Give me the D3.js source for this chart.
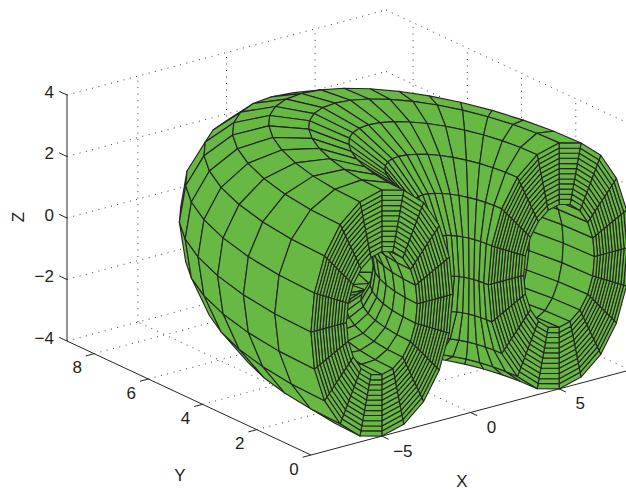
<!DOCTYPE html>
<html>
<head>
<meta charset="utf-8">
<script src="https://cdn.jsdelivr.net/npm/d3@7"></script>
<style>
  html, body { margin: 0; padding: 0; background: #fff; }
  svg { display: block; }
  text { font-family: "Liberation Sans", Arial, sans-serif; font-size: 17px; fill: #231f20; }
</style>
</head>
<body>
<script>
const xTicks = [-5, 0, 5];
const yTicks = [0, 2, 4, 6, 8];
const zTicks = [-4, -2, 0, 2, 4];
const xLimits = [-9, 9];
const yLimits = [0, 9];
const zLimits = [-4, 4];

// half ring with a thick walled tube: angles in degrees
const sweepAngles = [0, 9, 18, 27, 36, 45, 54, 63, 72, 81, 90, 99, 108, 117, 126, 135, 144, 153, 162, 171, 180];
const tubeAngles = [0, 18, 36, 54, 72, 90, 108, 126, 144, 162, 180, 198, 216, 234, 252, 270, 288, 306, 324, 342, 360];
const capRadii = [2, 2.17, 2.33, 2.5, 2.67, 2.83, 3, 3.17, 3.33, 3.5, 3.67, 3.83, 4];
const ringRadius = 5;

const width = 626, height = 489;
const green = "#68b944", ink = "#262624";

const svg = d3.select("body").append("svg").attr("width", width).attr("height", height);

// each data axis moves along its own direction on screen
const xToH = d3.scaleLinear().domain(xLimits).range([0, 319]);
const xToV = d3.scaleLinear().domain(xLimits).range([0, -85]);
const yToH = d3.scaleLinear().domain(yLimits).range([0, -244]);
const yToV = d3.scaleLinear().domain(yLimits).range([0, -114]);
const zToV = d3.scaleLinear().domain(zLimits).range([0, -246]);
const originX = 311, originY = 455;

function project(p) {
    return [originX + xToH(p[0]) + yToH(p[1]), originY + xToV(p[0]) + yToV(p[1]) + zToV(p[2])];
}

// camera sits on the -x, -y, +z side
const camera = [-833, -544, 352];
const depth = p => p[0] * camera[0] + p[1] * camera[1] + p[2] * camera[2];
const line = d3.line();

function seg(a, b, dotted) {
    const s = svg.append("path").attr("d", line([project(a), project(b)]))
        .attr("fill", "none").attr("stroke", ink);
    if (dotted) s.attr("stroke-width", 0.9).attr("stroke-dasharray", "1 5.5");
    else s.attr("stroke-width", 1);
}

const [x0, x1] = xLimits, [y0, y1] = yLimits, [z0, z1] = zLimits;

// grid on the floor and the two back walls
xTicks.forEach(x => {
    seg([x, y0, z0], [x, y1, z0], true);
    seg([x, y1, z0], [x, y1, z1], true);
});
yTicks.forEach(y => {
    if (y !== 0) seg([x0, y, z0], [x1, y, z0], true);
    seg([x1, y, z0], [x1, y, z1], true);
});
zTicks.forEach(z => {
    seg([x0, y1, z], [x1, y1, z], true);
    seg([x1, y1, z], [x1, y0, z], true);
});

// axis lines and tick marks
seg([x0, y0, z0], [x1, y0, z0]);
seg([x0, y0, z0], [x0, y1, z0]);
seg([x0, y1, z0], [x0, y1, z1]);
xTicks.forEach(x => seg([x, y0, z0], [x, y0 - 0.25, z0]));
yTicks.forEach(y => seg([x0, y, z0], [x0 - 0.47, y, z0]));
zTicks.forEach(z => seg([x0, y1, z], [x0, y1 + 0.29, z]));

// surface points
function tubePoint(sweep, tube, r) {
    const s = sweep * Math.PI / 180, t = tube * Math.PI / 180;
    const rho = ringRadius - r * Math.cos(t);
    return [-rho * Math.cos(s), rho * Math.sin(s), r * Math.sin(t)];
}

const faces = [];
d3.pairs(sweepAngles).forEach(([s0, s1]) => {
    d3.pairs(tubeAngles).forEach(([t0, t1]) => {
        const r = capRadii[capRadii.length - 1], q = capRadii[0];
        faces.push([tubePoint(s0, t0, r), tubePoint(s1, t0, r), tubePoint(s1, t1, r), tubePoint(s0, t1, r)]);
        faces.push([tubePoint(s0, t1, q), tubePoint(s1, t1, q), tubePoint(s1, t0, q), tubePoint(s0, t0, q)]);
    });
});
d3.pairs(tubeAngles).forEach(([t0, t1]) => {
    d3.pairs(capRadii).forEach(([r0, r1]) => {
        const a = sweepAngles[0], b = sweepAngles[sweepAngles.length - 1];
        faces.push([tubePoint(a, t0, r0), tubePoint(a, t0, r1), tubePoint(a, t1, r1), tubePoint(a, t1, r0)]);
        faces.push([tubePoint(b, t1, r0), tubePoint(b, t1, r1), tubePoint(b, t0, r1), tubePoint(b, t0, r0)]);
    });
});

// dot of the face normal with the camera
function facing(f) {
    const a = f[0], b = f[1], c = f[2];
    const u = [b[0] - a[0], b[1] - a[1], b[2] - a[2]];
    const v = [c[0] - a[0], c[1] - a[1], c[2] - a[2]];
    const n = [u[1] * v[2] - u[2] * v[1], u[2] * v[0] - u[0] * v[2], u[0] * v[1] - u[1] * v[0]];
    return n[0] * camera[0] + n[1] * camera[1] + n[2] * camera[2];
}

// far faces first
const visible = faces
    .filter(f => facing(f) > 0)
    .map(f => ({ f, d: d3.mean(f, depth) }))
    .sort((a, b) => d3.ascending(a.d, b.d));

svg.append("g").selectAll("path").data(visible).enter().append("path")
    .attr("d", o => line(o.f.map(project)) + "Z")
    .attr("fill", green)
    .attr("stroke", ink)
    .attr("stroke-width", 1.15)
    .attr("stroke-linejoin", "round");

// labels
const fmt = v => String(v).replace("-", "\u2212");
const label = (x, y, s, anchor) => svg.append("text").attr("x", x).attr("y", y)
    .attr("text-anchor", anchor || "middle").attr("dominant-baseline", "central").text(s);

zTicks.forEach(z => { const p = project([x0, y1, z]); label(p[0] - 13, p[1] - 3, fmt(z), "end"); });
yTicks.forEach(y => { const p = project([x0, y, z0]); label(p[0] - 17, p[1] + 14, fmt(y)); });
xTicks.forEach(x => { const p = project([x, y0, z0]); label(p[0] + 21, p[1] + 15, fmt(x)); });

label(462, 481, "X");
label(180, 475, "Y");
label(18, 217, "Z").attr("transform", "rotate(-90 18 217)");
</script>
</body>
</html>
